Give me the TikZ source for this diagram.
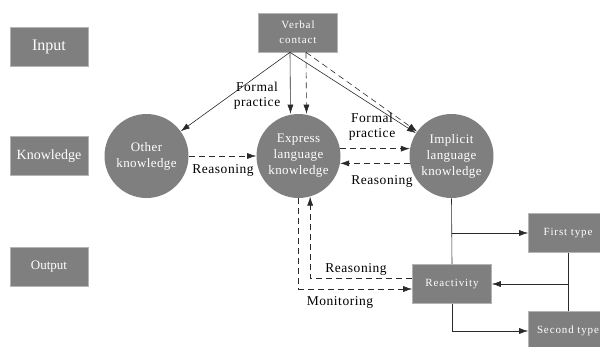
\documentclass[tikz,border=0pt]{standalone}
\usepackage{fontspec}
\setmainfont{Liberation Serif}
\usetikzlibrary{arrows.meta}
\definecolor{boxgray}{HTML}{7F7F7F}
\definecolor{rimgray}{HTML}{B4B4B4}
\definecolor{inkgray}{HTML}{2A2A2A}

\begin{document}
\begin{tikzpicture}[x=1pt,y=-1pt,line width=0.6pt,
  stage/.style={draw=rimgray,fill=boxgray,text=white,minimum width=78pt,minimum height=39pt,inner sep=1pt},
  smallbox/.style={stage,minimum width=79pt,align=center,font=\fontsize{11}{15}\selectfont\addfontfeature{LetterSpace=8}},
  blob/.style={circle,fill=boxgray,text=white,minimum size=84pt,inner sep=0pt,align=center,font=\fontsize{13}{16}\selectfont\addfontfeature{LetterSpace=3}},
  lbl/.style={align=center,inner sep=0pt,font=\fontsize{13.5}{15}\selectfont\addfontfeature{LetterSpace=4}},
  arr/.style={-{Latex[length=9pt,width=6pt]}},
  dashline/.style={dash pattern=on 6pt off 4pt}]
\useasboundingbox (0,0) rectangle (600,346);

% levels
\node[stage,font=\fontsize{16}{18}\selectfont] (inp) at (49,46.5) {Input};
\node[stage,font=\fontsize{14}{16}\selectfont] (know) at (49,156) {Knowledge};
\node[stage,font=\fontsize{13}{16}\selectfont] (outp) at (49,267) {Output};

\node[smallbox] (verbal) at (298,32.5) {Verbal\\contact};
\node[blob] (other) at (146.5,156) {Other\\knowledge};
\node[blob] (express) at (298.5,156) {Express\\language\\knowledge};
\node[blob] (implicit) at (451.5,156) {Implicit\\language\\knowledge};
\node[smallbox] (react) at (452,284) {Reactivity};
\node[smallbox] (first) at (568,233) {First type};
\node[smallbox] (second) at (568,331) {Second type};

\coordinate (vl) at ([xshift=-8pt]verbal.south);
\coordinate (vr) at ([xshift=8pt]verbal.south);

\begin{scope}[draw=inkgray]
% input to knowledge
\draw[arr] (vl) -- (other);
\draw[arr] (vl) -- ([xshift=-8pt]express.north);
\draw[arr,dashline] (vr) -- ([xshift=8pt]express.north);
\draw[arr] (vl) -- (implicit);
\draw[arr,dashline] (vr) -- (implicit);

\draw[arr,dashline] (other.east) -- (express.west);
\draw[arr,dashline] (express.10) -- (implicit.170);
\draw[arr,dashline] (implicit.190) -- (express.350);

% output side
\draw (implicit.south) -- (react.north);
\draw[arr] (implicit.south |- first.west) -- (first.west);
\draw[arr] (react.south) |- (second.west);
\draw (first.south) -- (second.north);
\draw[arr] (first.south |- react.east) -- (react.east);
\draw[arr,dashline] (express.south) |- ([yshift=-5pt]react.west);
\draw[arr,dashline] ([yshift=6pt]react.west) -| (express.-74);
\end{scope}

\node[lbl] (fp1) at (257,96) {Formal\\practice};
\node[lbl] (fp2) at (372,127) {Formal\\practice};
\node[lbl] (rs1) at (223,170) {Reasoning};
\node[lbl] (rs2) at (382,181) {Reasoning};
\node[lbl] (rs3) at (356,269) {Reasoning};
\node[lbl] (mon) at (340,302) {Monitoring};
\end{tikzpicture}
\end{document}
